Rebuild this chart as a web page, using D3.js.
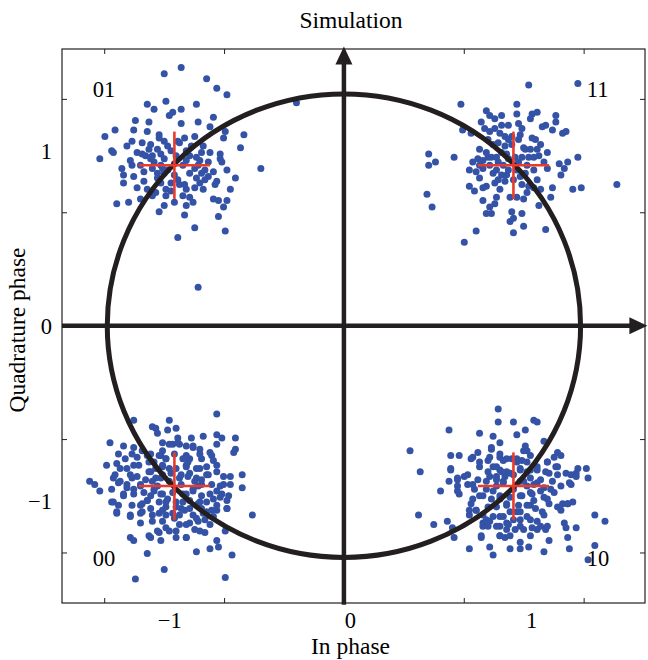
<!DOCTYPE html>
<html>
<head>
<meta charset="utf-8">
<script src="https://cdn.jsdelivr.net/npm/d3@7"></script>
<style>
  html, body { margin: 0; padding: 0; background: #ffffff; }
  svg { display: block; }
</style>
</head>
<body>
<svg id="chart" width="648" height="660"></svg>
<script>
// ---------------- data ----------------
const symbolLabels = ["01", "11", "00", "10"];
const symbolI = [-1, 1, -1, 1];
const symbolQ = [1, 1, -1, -1];

const cluster01 = [
[-1.06,1.57],[-0.96,1.61],[-0.81,1.54],[-0.75,1.48],[-0.69,1.44],
[-1.16,1.38],[-1.12,1.35],[-1.05,1.40],[-0.87,1.38],[-0.96,1.35],[-1.01,1.33],[-1.03,1.31],
[-1.23,1.28],[-1.15,1.27],[-0.96,1.26],[-0.86,1.27],[-0.77,1.30],[-0.79,1.24],
[-1.41,1.18],[-1.35,1.22],[-1.24,1.22],[-1.16,1.21],[-1.09,1.19],[-1.09,1.17],[-0.94,1.17],[-0.88,1.18],[-0.70,1.21],[-0.59,1.19],[-0.71,1.17],
[-1.37,1.09],[-1.25,1.15],[-1.19,1.14],[-1.14,1.13],[-1.10,1.10],[-1.04,1.12],[-0.97,1.14],[-0.93,1.09],[-0.84,1.08],[-0.79,1.08],[-0.73,1.07],[-0.61,1.11],
[-1.44,1.04],[-1.36,1.08],[-1.22,1.08],[-1.17,1.06],[-1.13,1.06],[-1.08,1.07],[-1.06,1.04],[-0.99,1.06],[-0.91,1.06],[-0.85,1.03],[-0.73,1.04],[-0.72,1.02],
[-1.31,0.98],[-1.26,1.03],[-1.20,1.00],[-1.13,0.98],[-1.08,1.00],[-1.04,0.97],[-0.95,1.00],[-0.88,0.98],[-0.82,0.97],[-0.77,0.96],[-0.69,0.97],[-0.49,0.98],
[-1.30,0.94],[-1.24,0.93],[-1.18,0.90],[-1.10,0.92],[-1.06,0.95],[-1.00,0.94],[-0.91,0.95],[-0.87,0.92],[-0.82,0.91],[-0.75,0.90],[-0.64,0.92],
[-1.30,0.89],[-1.22,0.86],[-1.16,0.85],[-1.11,0.83],[-1.05,0.85],[-0.97,0.88],[-0.93,0.85],[-0.88,0.86],[-0.83,0.85],[-0.76,0.88],
[-1.34,0.76],[-1.27,0.77],[-1.20,0.79],[-1.13,0.81],[-1.05,0.81],[-1.00,0.77],[-0.95,0.81],[-0.91,0.80],[-0.89,0.77],[-0.77,0.79],[-0.74,0.78],[-0.69,0.78],[-0.67,0.85],
[-1.09,0.71],[-1.06,0.75],[-0.94,0.69],[-0.93,0.75],[-0.71,0.74],[-0.74,0.68],
[-0.98,0.55],[-0.88,0.61],[-0.70,0.59],
[-0.86,0.24],[-0.28,1.39],
[-1.12,1.02],[-1.02,1.09],[-0.90,1.12],[-1.18,0.96],[-0.86,1.00],[-0.98,0.91],[-1.08,0.89],[-0.80,1.02],[-1.28,1.12],[-1.02,0.84],[-0.84,0.95],[-1.15,1.10],
[-1.14,1.04],[-1.07,0.98],[-1.00,1.01],[-0.93,1.03],[-0.87,1.05],[-1.19,1.07],[-1.25,1.00],[-1.02,0.89],[-0.94,0.88],[-0.85,0.89],[-0.80,0.93],[-1.10,0.95],[-0.98,1.15],[-1.06,1.15],[-0.83,1.12]
];

const cluster11 = [
[1.09,1.50],[1.38,1.51],[0.69,1.38],[1.02,1.38],
[0.84,1.34],[0.86,1.31],[0.93,1.31],[1.02,1.32],[1.11,1.32],[1.14,1.33],[1.25,1.31],
[0.81,1.27],[0.89,1.29],[0.93,1.25],[0.97,1.25],[1.03,1.26],[1.05,1.23],[1.10,1.29],
[1.17,1.24],[1.19,1.25],[1.23,1.22],[1.25,1.27],[1.29,1.20],[1.31,1.21],
[0.70,1.22],[0.75,1.20],[0.83,1.23],[0.86,1.21],[0.89,1.23],[0.92,1.20],[0.95,1.18],[0.97,1.16],[1.03,1.16],[1.11,1.17],[1.13,1.16],
[0.80,1.10],[0.88,1.13],[0.91,1.14],[0.95,1.12],[1.06,1.11],[1.07,1.10],[1.10,1.10],[1.14,1.10],
[0.50,1.07],[0.65,1.05],[0.54,1.02],[0.50,1.00],[0.76,1.02],[0.79,1.04],[0.82,1.03],[0.85,1.05],[0.87,1.05],[0.91,1.02],[0.94,1.00],[0.97,1.04],[1.01,1.05],[1.05,1.05],[1.12,1.05],[1.18,1.02],[1.27,1.01],[1.32,1.02],[1.38,1.05],
[0.74,0.97],[0.78,0.96],[0.82,0.98],[0.88,0.95],[0.93,0.94],[0.97,0.97],[1.02,0.97],[1.07,0.95],[1.14,0.91],[1.20,0.98],[1.28,0.94],[1.30,0.98],
[0.74,0.87],[0.77,0.84],[0.82,0.86],[0.84,0.87],[0.89,0.89],[0.91,0.91],[0.95,0.90],[1.00,0.91],[1.05,0.88],[1.09,0.87],[1.12,0.86],[1.16,0.85],[1.23,0.86],[1.35,0.85],[1.40,0.86],[1.61,0.88],
[0.49,0.82],[0.82,0.78],[0.86,0.74],[0.89,0.76],[0.90,0.80],[0.98,0.80],[1.02,0.80],[1.06,0.79],[1.15,0.75],[1.22,0.80],
[0.52,0.74],[0.84,0.70],[0.87,0.70],[0.99,0.71],[1.05,0.70],[0.98,0.65],[1.00,0.67],
[0.78,0.59],[1.00,0.58],[1.06,0.62],[1.19,0.60],[0.71,0.52],
[0.99,1.13],[1.08,1.00],[0.86,1.00],[1.16,1.13],[0.93,1.08],[1.12,0.97],[0.80,0.92],[1.04,1.19],
[0.84,1.08],[0.90,1.05],[0.96,1.07],[1.03,1.02],[1.09,1.05],[1.15,1.06],[0.90,0.97],[0.96,0.94],[1.04,0.93],[0.99,1.18],[0.85,1.16],[1.20,1.08],[0.92,0.85],[1.08,0.83],[0.80,1.00]
];

const cluster00 = [
[-0.75,-0.55],[-1.03,-0.59],[-1.24,-0.59],
[-1.13,-0.63],[-1.11,-0.64],[-1.04,-0.65],[-0.99,-0.64],[-1.10,-0.67],[-0.98,-0.70],[-0.90,-0.70],[-0.83,-0.69],[-0.75,-0.68],[-0.72,-0.70],[-0.64,-0.70],
[-1.38,-0.73],[-1.30,-0.75],[-1.24,-0.76],[-1.19,-0.78],[-1.07,-0.73],[-1.01,-0.74],[-0.97,-0.74],[-0.93,-0.75],[-0.89,-0.75],[-0.85,-0.77],[-0.75,-0.74],[-0.64,-0.77],[-0.65,-0.79],
[-1.33,-0.80],[-1.25,-0.80],[-1.14,-0.80],[-1.08,-0.81],[-1.05,-0.83],[-0.93,-0.81],[-0.91,-0.83],[-0.84,-0.83],[-0.78,-0.81],[-0.77,-0.84],[-0.75,-0.87],
[-1.40,-0.87],[-1.34,-0.86],[-1.28,-0.89],[-1.21,-0.87],[-1.15,-0.85],[-1.11,-0.89],[-1.07,-0.87],[-0.99,-0.89],[-0.93,-0.87],[-0.87,-0.89],[-0.81,-0.88],[-0.75,-0.91],[-0.71,-0.94],[-0.67,-0.94],[-0.60,-0.93],[-0.60,-1.01],
[-1.50,-0.97],[-1.47,-0.99],[-1.44,-1.03],[-1.36,-0.95],[-1.33,-0.98],[-1.26,-0.93],[-1.22,-0.94],[-1.17,-0.96],[-1.13,-0.97],[-1.08,-0.95],[-1.03,-0.97],[-0.97,-0.95],[-0.92,-0.94],[-0.88,-0.97],[-0.84,-0.96],[-0.78,-0.99],[-0.73,-1.00],[-0.67,-0.99],
[-1.37,-1.02],[-1.30,-1.06],[-1.24,-1.02],[-1.18,-1.04],[-1.12,-1.02],[-1.07,-1.05],[-1.01,-1.04],[-0.95,-1.05],[-0.89,-1.02],[-0.84,-1.06],[-0.77,-1.08],[-0.72,-1.05],[-0.68,-1.06],
[-1.36,-1.10],[-1.33,-1.12],[-1.25,-1.12],[-1.19,-1.11],[-1.16,-1.09],[-1.09,-1.10],[-1.04,-1.08],[-0.99,-1.10],[-0.91,-1.09],[-0.86,-1.11],[-0.81,-1.10],[-0.75,-1.12],[-0.69,-1.09],[-0.75,-1.15],
[-1.34,-1.17],[-1.26,-1.18],[-1.19,-1.16],[-1.13,-1.18],[-1.07,-1.15],[-1.01,-1.17],[-0.94,-1.15],[-0.89,-1.18],[-0.83,-1.17],[-0.78,-1.15],[-0.69,-1.14],[-0.54,-1.18],
[-1.20,-1.23],[-1.13,-1.22],[-1.07,-1.22],[-1.00,-1.20],[-0.97,-1.24],[-0.91,-1.23],[-0.86,-1.22],[-0.82,-1.21],[-0.77,-1.19],
[-1.26,-1.32],[-1.24,-1.34],[-1.15,-1.31],[-1.09,-1.29],[-1.08,-1.34],[-1.03,-1.28],[-0.99,-1.32],[-0.93,-1.32],[-0.88,-1.27],[-0.82,-1.29],[-0.70,-1.28],
[-1.16,-1.42],[-0.87,-1.41],[-0.79,-1.39],[-0.75,-1.34],[-0.74,-1.38],[-0.66,-1.43],
[-1.06,-1.52],[-1.23,-1.58],[-0.70,-1.57],
[-1.15,-0.91],[-1.02,-0.92],[-0.96,-0.99],[-1.10,-1.00],[-1.20,-1.00],[-0.86,-1.00],[-1.05,-1.13],[-0.96,-1.14],[-1.28,-0.99],[-0.80,-0.93],[-1.14,-1.06],[-0.92,-0.85],[-1.00,-0.80],[-1.22,-0.82],[-0.84,-1.14],
[-1.16,-0.81],[-1.12,-0.85],[-1.09,-0.81],[-1.07,-0.78],[-1.05,-0.83],[-1.07,-0.88],[-1.14,-0.91],[-1.11,-0.95],[-1.07,-0.93],[-1.03,-0.89],[-0.95,-0.83],[-0.93,-0.88],[-0.96,-0.93],[-0.91,-0.92],[-0.87,-0.95],[-0.85,-0.89],[-0.81,-0.93],[-0.84,-0.99],
[-0.89,-1.03],[-0.93,-1.05],[-0.95,-1.10],[-0.99,-1.13],[-1.05,-1.10],[-1.08,-1.05],[-1.12,-1.03],[-1.16,-1.09],[-1.20,-1.12],[-1.24,-1.05],[-1.28,-1.01],[-1.32,-0.97],[-1.35,-0.93],[-1.37,-1.10],[-1.34,-1.16],[-1.26,-1.19],[-1.20,-1.17],[-1.14,-1.14],
[-1.09,-1.17],[-1.05,-1.18],[-0.97,-1.18],[-0.91,-1.14],[-0.85,-1.10],[-0.81,-1.16],[-0.87,-1.20],[-0.93,-1.24],[-0.99,-1.28],[-1.05,-1.26],[-1.10,-1.28],[-1.14,-1.32],[-0.93,-1.32],[-0.85,-1.28],[-0.79,-1.24],
[-0.73,-1.07],[-0.69,-1.14],[-0.75,-1.03],[-0.71,-0.99],[-0.79,-1.05],[-1.24,-0.87],[-1.29,-0.83],[-1.32,-0.89],[-1.03,-0.74],[-0.98,-0.73],[-0.89,-0.76],[-0.85,-0.80],[-0.79,-0.79],[-1.20,-0.99],[-1.25,-0.95],[-1.30,-1.05]
];

const cluster10 = [
[0.91,-0.52],[0.91,-0.60],[1.00,-0.60],[1.12,-0.59],[1.14,-0.60],[0.62,-0.65],[0.80,-0.67],[1.02,-0.68],[1.07,-0.65],[0.88,-0.69],
[1.18,-0.72],[0.92,-0.73],[1.07,-0.75],[0.87,-0.77],[0.79,-0.79],[1.08,-0.78],[1.10,-0.81],[0.68,-0.81],[0.75,-0.83],[0.86,-0.82],[0.92,-0.82],[0.94,-0.84],[0.99,-0.83],[1.02,-0.85],[1.05,-0.84],[1.20,-0.85],[1.24,-0.82],[1.28,-0.81],
[0.39,-0.78],[0.45,-0.91],[0.63,-0.89],[0.67,-0.95],[0.73,-0.93],[0.80,-0.88],[0.85,-0.91],[0.88,-0.88],[0.92,-0.90],[0.96,-0.91],[1.04,-0.89],[1.08,-0.91],[1.14,-0.90],[1.19,-0.91],[1.25,-0.88],[1.26,-0.93],[1.31,-0.92],[1.38,-0.89],[1.43,-0.89],[1.34,-0.93],[1.37,-0.92],[1.44,-0.95],
[0.57,-1.03],[0.62,-0.97],[0.67,-1.00],[0.73,-0.99],[0.77,-1.02],[0.84,-0.97],[0.90,-1.00],[0.94,-0.98],[1.04,-0.97],[1.08,-1.00],[1.14,-0.98],[1.18,-1.01],[1.23,-0.97],[1.28,-1.00],[1.34,-0.99],
[0.68,-1.05],[0.80,-1.06],[0.87,-1.08],[0.92,-1.06],[0.98,-1.07],[1.05,-1.06],[1.11,-1.05],[1.18,-1.07],[1.24,-1.04],
[0.75,-1.11],[0.78,-1.15],[0.85,-1.13],[0.90,-1.13],[0.96,-1.11],[1.03,-1.12],[1.08,-1.12],[1.13,-1.14],[1.17,-1.16],[1.26,-1.13],[1.29,-1.11],[1.32,-1.11],[1.35,-1.10],
[0.44,-1.18],[0.53,-1.24],[0.61,-1.22],[0.74,-1.18],[0.82,-1.18],[0.86,-1.22],[0.92,-1.19],[0.96,-1.23],[1.04,-1.21],[1.08,-1.19],[1.14,-1.22],[1.18,-1.18],[1.48,-1.18],[1.54,-1.22],
[0.64,-1.26],[0.65,-1.32],[0.82,-1.23],[0.85,-1.25],[0.92,-1.25],[0.97,-1.24],[1.01,-1.27],[1.06,-1.27],[1.11,-1.26],[1.16,-1.25],[1.19,-1.27],[1.30,-1.23],[1.31,-1.26],[1.37,-1.26],
[0.81,-1.32],[0.92,-1.31],[0.95,-1.32],[1.04,-1.35],[1.10,-1.31],[1.21,-1.34],[1.32,-1.32],[0.86,-1.38],[0.74,-1.39],[0.88,-1.43],[0.98,-1.39],[1.04,-1.39],[1.09,-1.38],[1.18,-1.41],[1.33,-1.39],[1.48,-1.37],[1.44,-1.46],
[0.95,-0.94],[1.00,-1.02],[1.10,-0.95],[0.84,-1.02],[0.98,-1.16],[1.12,-1.09],[0.90,-0.94],[1.21,-1.11],[1.00,-0.93],[0.79,-0.96],[1.02,-1.16],
[0.87,-0.76],[0.92,-0.80],[0.96,-0.83],[1.02,-0.83],[1.06,-0.78],[1.08,-0.85],[0.90,-0.88],[0.85,-0.84],[0.80,-0.85],[0.76,-0.82],[0.93,-0.91],[0.98,-0.92],[1.04,-0.90],[1.10,-0.90],[1.14,-0.88],[1.20,-0.85],[1.26,-0.88],[1.21,-0.92],
[1.16,-0.96],[1.12,-0.99],[1.06,-0.97],[0.94,-0.97],[0.90,-0.96],[0.86,-0.94],[0.76,-0.99],[0.71,-0.94],[0.67,-0.96],[0.63,-0.90],[0.67,-1.03],[0.76,-1.08],[0.82,-1.06],[0.88,-1.03],[0.92,-1.08],[0.96,-1.12],[1.04,-1.06],[1.10,-1.04],
[1.16,-1.03],[1.22,-1.02],[1.20,-1.08],[1.10,-1.12],[1.04,-1.16],[1.00,-1.21],[0.94,-1.19],[0.88,-1.19],[0.84,-1.21],[0.78,-1.15],[0.74,-1.15],[0.82,-1.25],[0.90,-1.25],[0.96,-1.27],[1.04,-1.25],[1.10,-1.21],[1.14,-1.27],[1.20,-1.25],
[1.28,-1.15],[1.32,-1.11],[1.37,-0.94],[1.33,-0.98],[1.26,-0.79],[0.63,-0.81],[0.81,-1.31],[0.92,-1.31],[0.98,-1.31]
];

// ticks and tick labels
const tickMarks = [-1.414, -0.707, 0, 0.707, 1.414];
const xTickLabels = ["\u22121", "0", "1"];
const xTickLabelAt = [-1.03, 0.035, 1.105];
const yTickLabels = ["1", "0", "\u22121"];
const yTickLabelAt = [1.09, 0, -1.09];

// reference circle radii (I, Q)
const circleRadius = [1.396, 1.445];
const crossHalf = 0.21;

// ---------------- drawing ----------------
const svg = d3.select("#chart");
const serif = "'Liberation Serif', 'Times New Roman', serif";
const ink = "#231f20";

const x = d3.scaleLinear().domain([-1.663, 1.776]).range([62, 645]);
const y = d3.scaleLinear().domain([-1.729, 1.725]).range([603, 49]);
const [x0, x1] = x.range();
const [y0, y1] = y.range();

// frame
svg.append("rect")
  .attr("x", x0).attr("y", y1)
  .attr("width", x1 - x0).attr("height", y0 - y1)
  .attr("fill", "none").attr("stroke", ink).attr("stroke-width", 1.2);

// inward tick marks on all four sides
function tickAxis(axis, tx, ty) {
  const g = svg.append("g").attr("transform", `translate(${tx},${ty})`)
    .call(axis.tickValues(tickMarks).tickSizeInner(-5).tickSizeOuter(0).tickFormat(""));
  g.select(".domain").remove();
  g.selectAll("line").attr("stroke", ink).attr("stroke-width", 1);
}
tickAxis(d3.axisBottom(x), 0, y0);
tickAxis(d3.axisTop(x), 0, y1);
tickAxis(d3.axisLeft(y), x0, 0);
tickAxis(d3.axisRight(y), x1, 0);

// scatter points
const blue = "#3453a6";
const clusters = [cluster01, cluster11, cluster00, cluster10];
const pts = clusters.flat();
svg.append("g").selectAll("circle").data(pts).join("circle")
  .attr("cx", d => x(d[0]))
  .attr("cy", d => y(d[1]))
  .attr("r", 3.5)
  .attr("fill", blue);

// reference circle
svg.append("ellipse")
  .attr("cx", x(0)).attr("cy", y(0))
  .attr("rx", x(circleRadius[0]) - x(0))
  .attr("ry", y(0) - y(circleRadius[1]))
  .attr("fill", "none").attr("stroke", ink).attr("stroke-width", 5);

// axis arrows
const ax0 = x(0), ay0 = y(0);
const hTip = x(1.79), vTip = y(1.74);
const headL = 18, headW = 8.5;
svg.append("line").attr("x1", x0).attr("y1", ay0).attr("x2", hTip - headL + 2).attr("y2", ay0)
  .attr("stroke", ink).attr("stroke-width", 4.5);
svg.append("path")
  .attr("d", `M${hTip},${ay0} L${hTip - headL},${ay0 - headW} L${hTip - headL},${ay0 + headW} Z`)
  .attr("fill", ink);
svg.append("line").attr("x1", ax0).attr("y1", y(-1.74)).attr("x2", ax0).attr("y2", vTip + headL - 2)
  .attr("stroke", ink).attr("stroke-width", 4.5);
svg.append("path")
  .attr("d", `M${ax0},${vTip} L${ax0 - headW},${vTip + headL} L${ax0 + headW},${vTip + headL} Z`)
  .attr("fill", ink);

// red crosses at ideal symbols
const red = "#ea3a2c";
const crossG = svg.append("g");
symbolI.forEach((si, k) => {
  const sq = symbolQ[k];
  crossG.append("line").attr("x1", x(si - crossHalf)).attr("x2", x(si + crossHalf))
    .attr("y1", y(sq)).attr("y2", y(sq)).attr("stroke", red).attr("stroke-width", 2.6);
  crossG.append("line").attr("x1", x(si)).attr("x2", x(si))
    .attr("y1", y(sq - crossHalf)).attr("y2", y(sq + crossHalf)).attr("stroke", red).attr("stroke-width", 2.6);
});

// tick labels
const xl = svg.append("g").attr("transform", `translate(0,${y0})`)
  .call(d3.axisBottom(x).tickValues(xTickLabelAt).tickSize(0).tickFormat((d, i) => xTickLabels[i]));
xl.select(".domain").remove();
xl.selectAll("text").attr("y", 25).attr("dy", null)
  .attr("font-family", serif).attr("font-size", 22.5).attr("fill", "#000");

const yl = svg.append("g").attr("transform", `translate(${x0},0)`)
  .call(d3.axisLeft(y).tickValues(yTickLabelAt).tickSize(0).tickFormat((d, i) => yTickLabels[i]));
yl.select(".domain").remove();
yl.selectAll("text").attr("x", -10).attr("dy", "0.35em")
  .attr("font-family", serif).attr("font-size", 22.5).attr("fill", "#000");

// quadrant labels
const labelI = [-1.481, 1.433, -1.481, 1.433];
const labelQ = [1.426, 1.426, -1.501, -1.501];
svg.append("g").selectAll("text").data(symbolLabels).join("text")
  .attr("x", (d, i) => x(labelI[i]))
  .attr("y", (d, i) => y(labelQ[i]))
  .attr("font-family", serif).attr("font-size", 22.5).attr("fill", "#000")
  .text(d => d);

// titles
svg.append("text").attr("x", 351).attr("y", 28).attr("text-anchor", "middle")
  .attr("font-family", serif).attr("font-size", 23.5).text("Simulation");
svg.append("text").attr("x", 350.5).attr("y", 654).attr("text-anchor", "middle")
  .attr("font-family", serif).attr("font-size", 23.5).text("In phase");
svg.append("text").attr("transform", "translate(25,330) rotate(-90)").attr("text-anchor", "middle")
  .attr("font-family", serif).attr("font-size", 23.5).text("Quadrature phase");
</script>
</body>
</html>
